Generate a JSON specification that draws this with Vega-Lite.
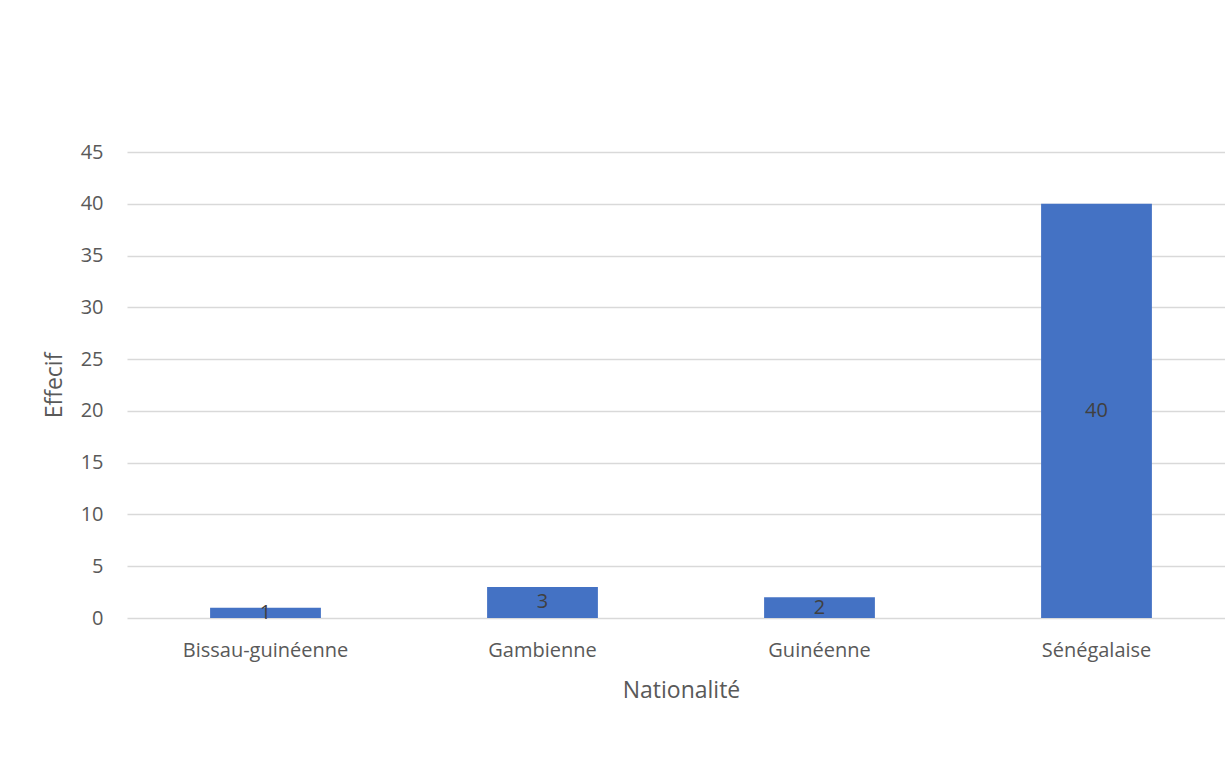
{
  "$schema": "https://vega.github.io/schema/vega-lite/v6.json",
  "width": 1108,
  "height": 466,
  "autosize": {"type": "none"},
  "padding": {"left": 127, "top": 152, "right": 0, "bottom": 146},
  "background": "white",
  "config": {
    "view": {"stroke": null},
    "font": "Open Sans",
    "axis": {"labelFont": "Open Sans", "titleFont": "Open Sans", "labelColor": "#595959", "titleColor": "#595959", "labelFontSize": 20, "titleFontSize": 23, "titleFontWeight": "normal"}
  },
  "data": {
    "values": [
      {"nat": "Bissau-guinéenne", "n": 1},
      {"nat": "Gambienne", "n": 3},
      {"nat": "Guinéenne", "n": 2},
      {"nat": "Sénégalaise", "n": 40}
    ]
  },
  "encoding": {
    "x": {
      "field": "nat", "type": "nominal", "sort": null,
      "title": "Nationalité",
      "scale": {"paddingInner": 0.6, "paddingOuter": 0.3},
      "axis": {"labelAngle": 0, "ticks": false, "domain": false, "labelPadding": 22, "titlePadding": 19}
    }
  },
  "layer": [
    {
      "mark": {"type": "bar", "color": "#4472C4"},
      "encoding": {
        "y": {
          "field": "n", "type": "quantitative", "title": "Effecif",
          "scale": {"domain": [0, 45], "nice": false},
          "axis": {"values": [0, 5, 10, 15, 20, 25, 30, 35, 40, 45], "ticks": false, "domain": false, "labelPadding": 24, "titlePadding": 14, "gridColor": "#D9D9D9", "gridWidth": 1.3}
        }
      }
    },
    {
      "mark": {"type": "text", "baseline": "middle", "align": "center", "font": "Open Sans", "fontSize": 20, "color": "#404040"},
      "transform": [{"calculate": "datum.n / 2", "as": "mid"}],
      "encoding": {
        "y": {"field": "mid", "type": "quantitative"},
        "text": {"field": "n", "type": "quantitative"}
      }
    }
  ]
}
